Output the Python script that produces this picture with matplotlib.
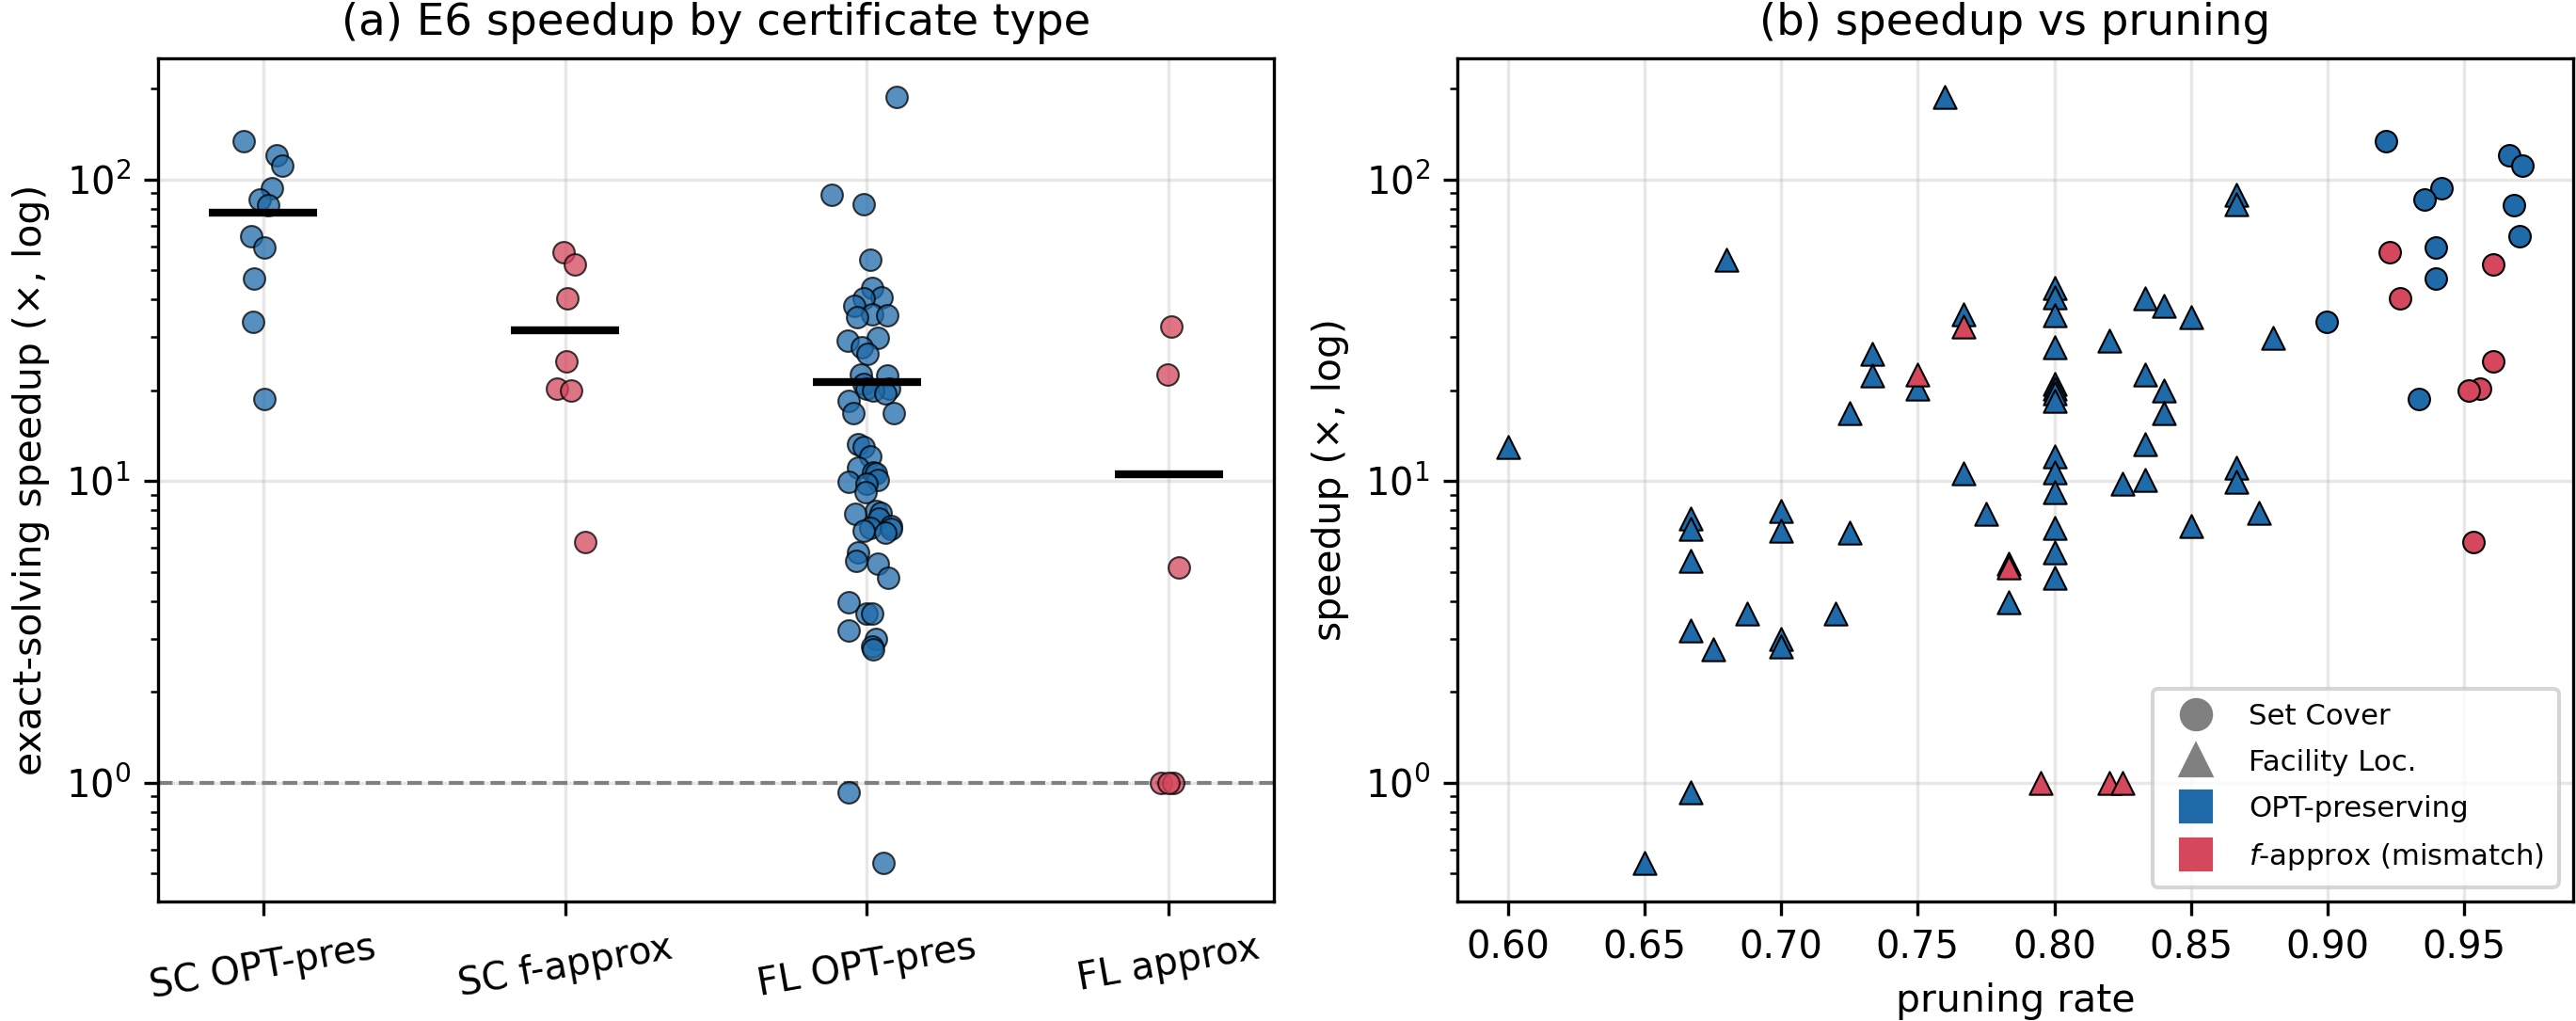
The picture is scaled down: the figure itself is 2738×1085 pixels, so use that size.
import matplotlib
matplotlib.use("Agg")
import matplotlib.pyplot as plt
from matplotlib.lines import Line2D
import numpy as np

BLUE = "#1f6aa9"
RED = "#d4475c"

# Set Cover, OPT-preserving certificates
sc_opt_speed = [134, 120, 111, 93.7, 86, 82.4, 64.9, 59.6, 46.9, 33.7, 18.7]
sc_opt_prune = [0.9215, 0.9666, 0.9714, 0.9417, 0.9356, 0.9684, 0.9705, 0.9396, 0.9396, 0.8996, 0.9335]
sc_opt_jit = [-0.065, 0.046, 0.062, 0.029, -0.01, 0.016, -0.038, 0.003, -0.03, -0.034, 0.004]

# Set Cover, f-approx certificates
sc_apx_speed = [57.5, 52.3, 40.2, 24.9, 20.2, 19.9, 6.27]
sc_apx_prune = [0.9227, 0.9606, 0.9266, 0.9606, 0.9558, 0.9516, 0.9534]
sc_apx_jit = [-0.005, 0.033, 0.007, 0.006, -0.026, 0.019, 0.068]

# Facility Location, OPT-preserving certificates
fl_opt_speed = [188, 89, 83, 54, 43.7, 40.5, 40.2, 38.2, 35.8, 35.5, 34.9,
                29.8, 29.1, 27.7, 26.3, 22.6, 22.3, 21.0, 20.2, 20.2, 20.0,
                19.5, 18.4, 16.8, 16.8, 13.2, 13.0, 12.1, 11.1, 10.7, 10.6,
                10.1, 9.95, 9.8, 9.2, 7.94, 7.83, 7.76, 7.5, 7.09, 7.0,
                6.95, 6.84, 6.75, 5.8, 5.42, 5.3, 4.76, 3.95, 3.62, 3.62,
                3.19, 3.0, 2.83, 2.77, 0.93, 0.54]
fl_opt_prune = [0.76, 0.8667, 0.8667, 0.68, 0.80, 0.80, 0.8333, 0.84, 0.7667, 0.80, 0.85,
                0.88, 0.82, 0.80, 0.7333, 0.8333, 0.7333, 0.80, 0.75, 0.80, 0.84,
                0.80, 0.80, 0.725, 0.84, 0.8333, 0.60, 0.80, 0.8667, 0.80, 0.7667,
                0.8333, 0.8667, 0.825, 0.80, 0.70, 0.875, 0.775, 0.6667, 0.85, 0.80,
                0.6667, 0.70, 0.725, 0.80, 0.6667, 0.7833, 0.80, 0.7833, 0.6875, 0.72,
                0.6667, 0.70, 0.70, 0.675, 0.6667, 0.65]
fl_opt_jit = [0.097, -0.118, -0.012, 0.01, 0.017, 0.049, -0.011, -0.043, 0.017, 0.066, -0.032,
              0.037, -0.063, -0.017, 0.002, -0.02, 0.068, -0.01, 0.0, 0.073, 0.02,
              0.06, -0.06, -0.045, 0.09, -0.03, -0.01, 0.012, -0.03, 0.02, 0.03,
              0.035, -0.06, 0.0, -0.005, 0.03, 0.045, -0.04, 0.04, 0.08, 0.01,
              0.08, -0.01, 0.06, -0.03, -0.035, 0.035, 0.07, -0.06, 0.0, 0.018,
              -0.06, 0.03, 0.018, 0.02, -0.06, 0.055]

# Facility Location, approx certificates
fl_apx_speed = [32.4, 22.6, 5.15, 1.0, 1.0, 1.0]
fl_apx_prune = [0.7667, 0.75, 0.7833, 0.795, 0.82, 0.825]
fl_apx_jit = [0.008, -0.005, 0.033, -0.025, 0.016, 0.0]

cat_labels = ["SC OPT-pres", "SC f-approx", "FL OPT-pres", "FL approx"]
groups = [
    (sc_opt_speed, sc_opt_prune, sc_opt_jit, BLUE, "o"),
    (sc_apx_speed, sc_apx_prune, sc_apx_jit, RED, "o"),
    (fl_opt_speed, fl_opt_prune, fl_opt_jit, BLUE, "^"),
    (fl_apx_speed, fl_apx_prune, fl_apx_jit, RED, "^"),
]

plt.rcParams["font.size"] = 9.6
plt.rcParams["axes.titlesize"] = 11.2
plt.rcParams["axes.labelsize"] = 9.8

W, H = 2738, 1085
fig = plt.figure(figsize=(W / 300, H / 300), dpi=300)
ax1 = fig.add_axes([168 / W, 1 - 958 / H, (1354 - 168) / W, (958 - 62) / H])
ax2 = fig.add_axes([1549 / W, 1 - 958 / H, (2735 - 1549) / W, (958 - 62) / H])

# (a) strip plot with mean bars
for i, (speed, prune, jit, col, mk) in enumerate(groups):
    xs = i + np.array(jit)
    ax1.scatter(xs, speed, s=30, c=col, alpha=0.75, edgecolors="black",
                linewidths=0.5, zorder=3)
    ax1.hlines(np.mean(speed), i - 0.18, i + 0.18, colors="black", lw=2.0, zorder=4)
ax1.axhline(1.0, color="gray", ls="--", lw=1.0, zorder=2)
ax1.set_yscale("log")
ax1.set_xticks(range(len(cat_labels)))
ax1.set_xticklabels(cat_labels, rotation=10)
ax1.set_ylabel("exact-solving speedup (×, log)")
ax1.set_title("(a) E6 speedup by certificate type")
ax1.grid(True, alpha=0.3)

# (b) speedup vs pruning rate
for speed, prune, jit, col, mk in groups:
    ax2.scatter(prune, speed, s=34 if mk == "^" else 30, c=col, marker=mk,
                edgecolors="black", linewidths=0.5, zorder=3)
ax2.set_yscale("log")
ax2.set_xlabel("pruning rate")
ax2.set_ylabel("speedup (×, log)")
ax2.set_title("(b) speedup vs pruning")
ax2.grid(True, alpha=0.3)

handles = [
    Line2D([], [], ls="", marker="o", color="gray", markersize=7.5),
    Line2D([], [], ls="", marker="^", color="gray", markersize=7.5),
    Line2D([], [], ls="", marker="s", color=BLUE, markersize=7.5),
    Line2D([], [], ls="", marker="s", color=RED, markersize=7.5),
]
labels = ["Set Cover", "Facility Loc.", "OPT-preserving", "$f$-approx (mismatch)"]
ax2.legend(handles, labels, loc="lower right", fontsize=7.4,
           labelspacing=0.65, borderpad=0.5)

fig.savefig("out.png", dpi=300)
